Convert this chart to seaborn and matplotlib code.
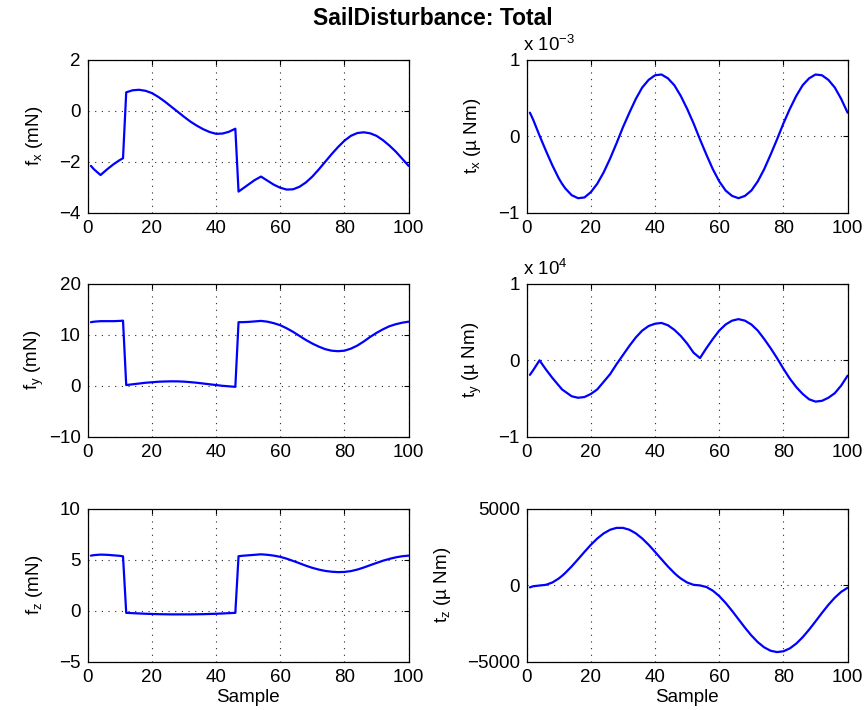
import numpy as np
import pandas as pd
import matplotlib
matplotlib.use("Agg")
import matplotlib.pyplot as plt
import seaborn as sns

# Sample index shared by all six channels
sample = [1, 2, 4, 6, 8, 10, 11, 12, 14, 16, 18, 20, 22, 24, 26, 28, 30, 32, 34,
          36, 38, 40, 42, 44, 46, 47, 48, 50, 52, 54, 56, 58, 60, 62, 64, 66, 68,
          70, 72, 74, 76, 78, 80, 82, 84, 86, 88, 90, 92, 94, 96, 98, 100]

# Force components (mN)
f_x = [-2.16, -2.30, -2.52, -2.30, -2.10, -1.93, -1.86, 0.73, 0.81, 0.83, 0.79,
       0.70, 0.55, 0.37, 0.17, -0.03, -0.23, -0.42, -0.58, -0.72, -0.83, -0.90,
       -0.89, -0.82, -0.70, -3.17, -3.08, -2.90, -2.72, -2.58, -2.74, -2.90,
       -3.02, -3.09, -3.08, -2.98, -2.81, -2.58, -2.30, -2.00, -1.70, -1.42,
       -1.17, -0.98, -0.87, -0.84, -0.88, -0.98, -1.15, -1.36, -1.60, -1.88, -2.16]

f_y = [12.5, 12.6, 12.7, 12.7, 12.7, 12.75, 12.8, 0.15, 0.3, 0.45, 0.6, 0.7, 0.8,
       0.85, 0.88, 0.87, 0.82, 0.72, 0.6, 0.45, 0.3, 0.15, 0.0, -0.1, -0.2,
       12.5, 12.5, 12.55, 12.65, 12.75, 12.6, 12.3, 11.9, 11.3, 10.6, 9.8, 9.0,
       8.3, 7.7, 7.2, 6.9, 6.8, 6.9, 7.3, 7.9, 8.7, 9.6, 10.4, 11.1, 11.7, 12.1,
       12.4, 12.6]

f_z = [5.42, 5.47, 5.52, 5.50, 5.45, 5.40, 5.35, -0.20, -0.23, -0.26, -0.29,
       -0.31, -0.33, -0.34, -0.35, -0.35, -0.35, -0.35, -0.34, -0.33, -0.31,
       -0.29, -0.26, -0.23, -0.20, 5.36, 5.40, 5.45, 5.50, 5.55, 5.50, 5.42,
       5.30, 5.12, 4.90, 4.67, 4.43, 4.22, 4.05, 3.92, 3.84, 3.80, 3.82, 3.90,
       4.05, 4.25, 4.48, 4.70, 4.92, 5.10, 5.25, 5.36, 5.42]

# Torque components (micro N m); t_x in units of 1e-3, t_y in units of 1e4
t_x_e3 = [0.31, 0.22, 0.01, -0.19, -0.38, -0.55, -0.62, -0.68, -0.77, -0.81,
          -0.80, -0.73, -0.62, -0.47, -0.29, -0.09, 0.12, 0.31, 0.49, 0.64,
          0.74, 0.80, 0.81, 0.76, 0.67, 0.60, 0.53, 0.36, 0.17, -0.04, -0.24,
          -0.43, -0.59, -0.71, -0.78, -0.81, -0.78, -0.71, -0.59, -0.43, -0.24,
          -0.04, 0.17, 0.36, 0.53, 0.67, 0.76, 0.81, 0.80, 0.74, 0.64, 0.49, 0.31]

t_y_e4 = [-0.19, -0.13, 0.0, -0.12, -0.23, -0.33, -0.38, -0.41, -0.47, -0.49,
          -0.48, -0.44, -0.38, -0.28, -0.18, -0.05, 0.07, 0.19, 0.30, 0.39,
          0.45, 0.48, 0.49, 0.46, 0.40, 0.36, 0.32, 0.22, 0.10, 0.03, 0.16,
          0.28, 0.39, 0.47, 0.52, 0.54, 0.52, 0.47, 0.39, 0.28, 0.16, 0.03,
          -0.11, -0.24, -0.35, -0.44, -0.51, -0.54, -0.53, -0.49, -0.43, -0.33,
          -0.20]

t_z = [-130, -60, -10, 35, 187, 451, 620, 809, 1237, 1709, 2191, 2657, 3069,
       3404, 3642, 3764, 3764, 3642, 3404, 3069, 2657, 2191, 1709, 1237, 809,
       620, 451, 187, 35, -4, -109, -347, -703, -1153, -1670, -2220, -2768,
       -3278, -3717, -4059, -4281, -4369, -4316, -4127, -3813, -3395, -2900,
       -2359, -1806, -1277, -809, -425, -156]

df = pd.DataFrame({
    "Sample": sample,
    "fx": f_x, "fy": f_y, "fz": f_z,
    "tx": np.array(t_x_e3) * 1e-3,
    "ty": np.array(t_y_e4) * 1e4,
    "tz": t_z,
})

sns.set_theme(style="white")
plt.rcParams.update({
    "font.family": ["Liberation Sans", "DejaVu Sans"],
    "mathtext.fontset": "custom",
    "mathtext.rm": "Liberation Sans",
    "mathtext.it": "Liberation Sans:italic",
    "mathtext.bf": "Liberation Sans:bold",
    "axes.unicode_minus": True,
    "text.color": "black",
    "axes.labelcolor": "black",
    "xtick.color": "black",
    "ytick.color": "black",
})

fig = plt.figure(figsize=(8.65, 7.1), dpi=100)

col_left = [0.1014, 0.6089]
col_width = 0.371
row_bottom = [0.7004, 0.3849, 0.0680]
row_height = 0.2151

panels = [
    # (row, col, column, ylabel, ylim, yticks, yticklabels, exponent text)
    (0, 0, "fx", r"f$_\mathrm{x}$ (mN)", (-4, 2), [-4, -2, 0, 2], None, None),
    (1, 0, "fy", r"f$_\mathrm{y}$ (mN)", (-10, 20), [-10, 0, 10, 20], None, None),
    (2, 0, "fz", r"f$_\mathrm{z}$ (mN)", (-5, 10), [-5, 0, 5, 10], None, None),
    (0, 1, "tx", r"t$_\mathrm{x}$ (µ Nm)", (-1e-3, 1e-3), [-1e-3, 0, 1e-3],
     ["\u22121", "0", "1"], r"x 10$^{\mathrm{-3}}$"),
    (1, 1, "ty", r"t$_\mathrm{y}$ (µ Nm)", (-1e4, 1e4), [-1e4, 0, 1e4],
     ["\u22121", "0", "1"], r"x 10$^{\mathrm{4}}$"),
    (2, 1, "tz", r"t$_\mathrm{z}$ (µ Nm)", (-5000, 5000), [-5000, 0, 5000], None, None),
]

tick_fs = 13.5
for row, col, key, ylabel, ylim, yticks, ylabels, expo in panels:
    ax = fig.add_axes([col_left[col], row_bottom[row], col_width, row_height])
    sns.lineplot(data=df, x="Sample", y=key, ax=ax, color="#0000ff",
                 linewidth=1.6, estimator=None, sort=False)
    ax.set_xlim(0, 100)
    ax.set_xticks([0, 20, 40, 60, 80, 100])
    ax.set_ylim(*ylim)
    ax.set_yticks(yticks)
    if ylabels is not None:
        ax.set_yticklabels(ylabels)
    ax.grid(True, linestyle=(0, (1, 5)), color="0.15", linewidth=0.8)
    ax.set_axisbelow(True)
    for sp in ax.spines.values():
        sp.set_visible(True)
        sp.set_color("black")
        sp.set_linewidth(0.9)
    ax.tick_params(direction="in", length=3.5, width=0.8, top=True, right=True,
                   labelsize=tick_fs, pad=5, colors="black")
    ax.set_ylabel(ylabel, fontsize=tick_fs, color="black")
    if row == 2:
        ax.set_xlabel("Sample", fontsize=tick_fs, labelpad=2.5, color="black")
    else:
        ax.set_xlabel("")
    if expo is not None:
        ax.text(-0.012, 1.06, expo, transform=ax.transAxes, ha="left",
                va="baseline", fontsize=tick_fs, color="black")
    # y-label placement
    if col == 0:
        ax.yaxis.set_label_coords(-0.165, 0.5)
    elif row < 2:
        ax.yaxis.set_label_coords(-0.168, 0.5)
    else:
        ax.yaxis.set_label_coords(-0.262, 0.5)
    ax.yaxis.label.set_va("center")

fig.text(0.5, 0.9746, "SailDisturbance: Total", ha="center", va="center",
         fontsize=16.5, fontweight="bold", color="black")

fig.savefig("out.png", dpi=100)
